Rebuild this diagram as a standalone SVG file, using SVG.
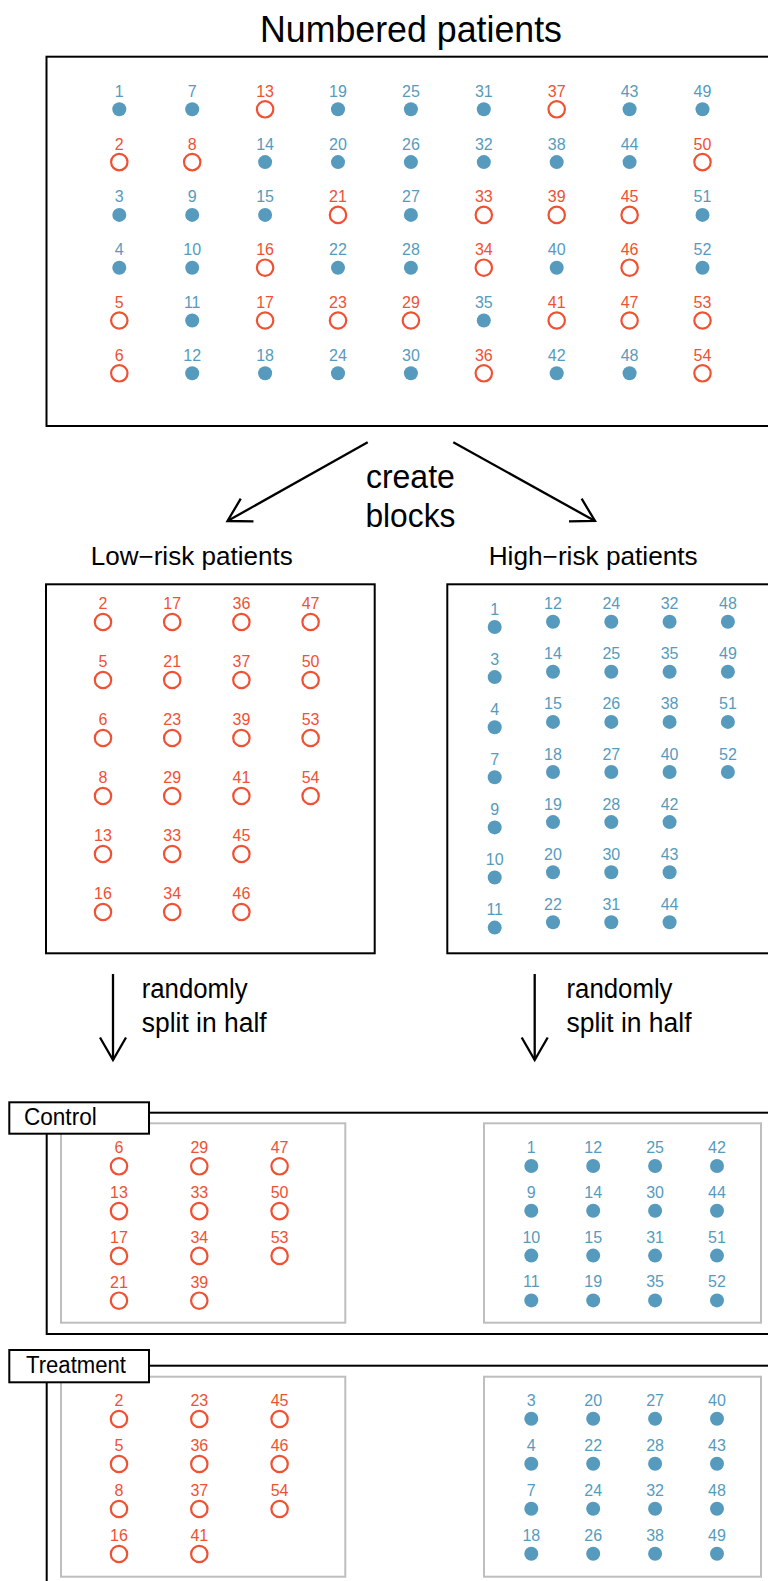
<svg xmlns="http://www.w3.org/2000/svg" width="768" height="1581" viewBox="0 0 768 1581">
<style>
.b{fill:#569BBD}
.r{fill:none;stroke:#F05133;stroke-width:2.2}
.n{font-family:"Liberation Sans",Arial,sans-serif;font-size:16px;text-anchor:middle}
.nb{fill:#569BBD}
.nr{fill:#F05133}
.box{fill:none;stroke:#000;stroke-width:2}
.lb{fill:#fff;stroke:#000;stroke-width:2}
.gbox{fill:none;stroke:#BEBEBE;stroke-width:2}
.t{font-family:"Liberation Sans",Arial,sans-serif;fill:#000}
.arr{stroke:#000;stroke-width:2.3;fill:none}
</style>
<defs>
<marker id="ah" markerUnits="userSpaceOnUse" markerWidth="40" markerHeight="40" viewBox="-30 -20 40 40" refX="0" refY="0" orient="auto" overflow="visible">
<path d="M-22.5,-13 L0,0 L-22.5,13" fill="none" stroke="#000" stroke-width="2.3"/>
</marker>
</defs>
<rect width="768" height="1581" fill="#fff"/>

<g id="numbered">
<text class="t" x="411" y="42" font-size="37" text-anchor="middle" textLength="302" lengthAdjust="spacingAndGlyphs">Numbered patients</text>
<rect class="box" x="46.5" y="56.7" width="740" height="369.3"/>
<g transform="translate(119.3,109.3)"><circle class="b" r="7"/><text class="n nb" y="-12.5">1</text></g>
<g transform="translate(119.3,162.1)"><circle class="r" r="8.2"/><text class="n nr" y="-12.5">2</text></g>
<g transform="translate(119.3,214.9)"><circle class="b" r="7"/><text class="n nb" y="-12.5">3</text></g>
<g transform="translate(119.3,267.7)"><circle class="b" r="7"/><text class="n nb" y="-12.5">4</text></g>
<g transform="translate(119.3,320.5)"><circle class="r" r="8.2"/><text class="n nr" y="-12.5">5</text></g>
<g transform="translate(119.3,373.3)"><circle class="r" r="8.2"/><text class="n nr" y="-12.5">6</text></g>
<g transform="translate(192.2,109.3)"><circle class="b" r="7"/><text class="n nb" y="-12.5">7</text></g>
<g transform="translate(192.2,162.1)"><circle class="r" r="8.2"/><text class="n nr" y="-12.5">8</text></g>
<g transform="translate(192.2,214.9)"><circle class="b" r="7"/><text class="n nb" y="-12.5">9</text></g>
<g transform="translate(192.2,267.7)"><circle class="b" r="7"/><text class="n nb" y="-12.5">10</text></g>
<g transform="translate(192.2,320.5)"><circle class="b" r="7"/><text class="n nb" y="-12.5">11</text></g>
<g transform="translate(192.2,373.3)"><circle class="b" r="7"/><text class="n nb" y="-12.5">12</text></g>
<g transform="translate(265.1,109.3)"><circle class="r" r="8.2"/><text class="n nr" y="-12.5">13</text></g>
<g transform="translate(265.1,162.1)"><circle class="b" r="7"/><text class="n nb" y="-12.5">14</text></g>
<g transform="translate(265.1,214.9)"><circle class="b" r="7"/><text class="n nb" y="-12.5">15</text></g>
<g transform="translate(265.1,267.7)"><circle class="r" r="8.2"/><text class="n nr" y="-12.5">16</text></g>
<g transform="translate(265.1,320.5)"><circle class="r" r="8.2"/><text class="n nr" y="-12.5">17</text></g>
<g transform="translate(265.1,373.3)"><circle class="b" r="7"/><text class="n nb" y="-12.5">18</text></g>
<g transform="translate(338,109.3)"><circle class="b" r="7"/><text class="n nb" y="-12.5">19</text></g>
<g transform="translate(338,162.1)"><circle class="b" r="7"/><text class="n nb" y="-12.5">20</text></g>
<g transform="translate(338,214.9)"><circle class="r" r="8.2"/><text class="n nr" y="-12.5">21</text></g>
<g transform="translate(338,267.7)"><circle class="b" r="7"/><text class="n nb" y="-12.5">22</text></g>
<g transform="translate(338,320.5)"><circle class="r" r="8.2"/><text class="n nr" y="-12.5">23</text></g>
<g transform="translate(338,373.3)"><circle class="b" r="7"/><text class="n nb" y="-12.5">24</text></g>
<g transform="translate(410.9,109.3)"><circle class="b" r="7"/><text class="n nb" y="-12.5">25</text></g>
<g transform="translate(410.9,162.1)"><circle class="b" r="7"/><text class="n nb" y="-12.5">26</text></g>
<g transform="translate(410.9,214.9)"><circle class="b" r="7"/><text class="n nb" y="-12.5">27</text></g>
<g transform="translate(410.9,267.7)"><circle class="b" r="7"/><text class="n nb" y="-12.5">28</text></g>
<g transform="translate(410.9,320.5)"><circle class="r" r="8.2"/><text class="n nr" y="-12.5">29</text></g>
<g transform="translate(410.9,373.3)"><circle class="b" r="7"/><text class="n nb" y="-12.5">30</text></g>
<g transform="translate(483.8,109.3)"><circle class="b" r="7"/><text class="n nb" y="-12.5">31</text></g>
<g transform="translate(483.8,162.1)"><circle class="b" r="7"/><text class="n nb" y="-12.5">32</text></g>
<g transform="translate(483.8,214.9)"><circle class="r" r="8.2"/><text class="n nr" y="-12.5">33</text></g>
<g transform="translate(483.8,267.7)"><circle class="r" r="8.2"/><text class="n nr" y="-12.5">34</text></g>
<g transform="translate(483.8,320.5)"><circle class="b" r="7"/><text class="n nb" y="-12.5">35</text></g>
<g transform="translate(483.8,373.3)"><circle class="r" r="8.2"/><text class="n nr" y="-12.5">36</text></g>
<g transform="translate(556.7,109.3)"><circle class="r" r="8.2"/><text class="n nr" y="-12.5">37</text></g>
<g transform="translate(556.7,162.1)"><circle class="b" r="7"/><text class="n nb" y="-12.5">38</text></g>
<g transform="translate(556.7,214.9)"><circle class="r" r="8.2"/><text class="n nr" y="-12.5">39</text></g>
<g transform="translate(556.7,267.7)"><circle class="b" r="7"/><text class="n nb" y="-12.5">40</text></g>
<g transform="translate(556.7,320.5)"><circle class="r" r="8.2"/><text class="n nr" y="-12.5">41</text></g>
<g transform="translate(556.7,373.3)"><circle class="b" r="7"/><text class="n nb" y="-12.5">42</text></g>
<g transform="translate(629.6,109.3)"><circle class="b" r="7"/><text class="n nb" y="-12.5">43</text></g>
<g transform="translate(629.6,162.1)"><circle class="b" r="7"/><text class="n nb" y="-12.5">44</text></g>
<g transform="translate(629.6,214.9)"><circle class="r" r="8.2"/><text class="n nr" y="-12.5">45</text></g>
<g transform="translate(629.6,267.7)"><circle class="r" r="8.2"/><text class="n nr" y="-12.5">46</text></g>
<g transform="translate(629.6,320.5)"><circle class="r" r="8.2"/><text class="n nr" y="-12.5">47</text></g>
<g transform="translate(629.6,373.3)"><circle class="b" r="7"/><text class="n nb" y="-12.5">48</text></g>
<g transform="translate(702.5,109.3)"><circle class="b" r="7"/><text class="n nb" y="-12.5">49</text></g>
<g transform="translate(702.5,162.1)"><circle class="r" r="8.2"/><text class="n nr" y="-12.5">50</text></g>
<g transform="translate(702.5,214.9)"><circle class="b" r="7"/><text class="n nb" y="-12.5">51</text></g>
<g transform="translate(702.5,267.7)"><circle class="b" r="7"/><text class="n nb" y="-12.5">52</text></g>
<g transform="translate(702.5,320.5)"><circle class="r" r="8.2"/><text class="n nr" y="-12.5">53</text></g>
<g transform="translate(702.5,373.3)"><circle class="r" r="8.2"/><text class="n nr" y="-12.5">54</text></g>
</g>

<g id="connectors">
<line class="arr" x1="367.7" y1="442.3" x2="227.5" y2="521" marker-end="url(#ah)"/>
<line class="arr" x1="453.3" y1="442.3" x2="595" y2="521" marker-end="url(#ah)"/>
<text class="t" x="410.4" y="488" font-size="34" text-anchor="middle" textLength="89" lengthAdjust="spacingAndGlyphs">create</text>
<text class="t" x="410.4" y="526.5" font-size="34" text-anchor="middle" textLength="90" lengthAdjust="spacingAndGlyphs">blocks</text>
<line class="arr" x1="113" y1="974" x2="113" y2="1060" marker-end="url(#ah)"/>
<line class="arr" x1="534.7" y1="974" x2="534.7" y2="1060" marker-end="url(#ah)"/>
<text class="t" x="141.7" y="998" font-size="27" textLength="106" lengthAdjust="spacingAndGlyphs">randomly</text>
<text class="t" x="141.7" y="1032" font-size="27" textLength="125" lengthAdjust="spacingAndGlyphs">split in half</text>
<text class="t" x="566.5" y="998" font-size="27" textLength="106" lengthAdjust="spacingAndGlyphs">randomly</text>
<text class="t" x="566.5" y="1032" font-size="27" textLength="125" lengthAdjust="spacingAndGlyphs">split in half</text>
</g>

<g id="low-risk">
<text class="t" x="191.7" y="565" font-size="25" text-anchor="middle" textLength="202" lengthAdjust="spacingAndGlyphs">Low−risk patients</text>
<rect class="box" x="46" y="584.3" width="328.7" height="369"/>
<g transform="translate(103,622)"><circle class="r" r="8.2"/><text class="n nr" y="-12.7">2</text></g>
<g transform="translate(103,680)"><circle class="r" r="8.2"/><text class="n nr" y="-12.7">5</text></g>
<g transform="translate(103,738)"><circle class="r" r="8.2"/><text class="n nr" y="-12.7">6</text></g>
<g transform="translate(103,796)"><circle class="r" r="8.2"/><text class="n nr" y="-12.7">8</text></g>
<g transform="translate(103,854)"><circle class="r" r="8.2"/><text class="n nr" y="-12.7">13</text></g>
<g transform="translate(103,912)"><circle class="r" r="8.2"/><text class="n nr" y="-12.7">16</text></g>
<g transform="translate(172.2,622)"><circle class="r" r="8.2"/><text class="n nr" y="-12.7">17</text></g>
<g transform="translate(172.2,680)"><circle class="r" r="8.2"/><text class="n nr" y="-12.7">21</text></g>
<g transform="translate(172.2,738)"><circle class="r" r="8.2"/><text class="n nr" y="-12.7">23</text></g>
<g transform="translate(172.2,796)"><circle class="r" r="8.2"/><text class="n nr" y="-12.7">29</text></g>
<g transform="translate(172.2,854)"><circle class="r" r="8.2"/><text class="n nr" y="-12.7">33</text></g>
<g transform="translate(172.2,912)"><circle class="r" r="8.2"/><text class="n nr" y="-12.7">34</text></g>
<g transform="translate(241.4,622)"><circle class="r" r="8.2"/><text class="n nr" y="-12.7">36</text></g>
<g transform="translate(241.4,680)"><circle class="r" r="8.2"/><text class="n nr" y="-12.7">37</text></g>
<g transform="translate(241.4,738)"><circle class="r" r="8.2"/><text class="n nr" y="-12.7">39</text></g>
<g transform="translate(241.4,796)"><circle class="r" r="8.2"/><text class="n nr" y="-12.7">41</text></g>
<g transform="translate(241.4,854)"><circle class="r" r="8.2"/><text class="n nr" y="-12.7">45</text></g>
<g transform="translate(241.4,912)"><circle class="r" r="8.2"/><text class="n nr" y="-12.7">46</text></g>
<g transform="translate(310.6,622)"><circle class="r" r="8.2"/><text class="n nr" y="-12.7">47</text></g>
<g transform="translate(310.6,680)"><circle class="r" r="8.2"/><text class="n nr" y="-12.7">50</text></g>
<g transform="translate(310.6,738)"><circle class="r" r="8.2"/><text class="n nr" y="-12.7">53</text></g>
<g transform="translate(310.6,796)"><circle class="r" r="8.2"/><text class="n nr" y="-12.7">54</text></g>
</g>

<g id="high-risk">
<text class="t" x="593.2" y="565" font-size="25" text-anchor="middle" textLength="209" lengthAdjust="spacingAndGlyphs">High−risk patients</text>
<rect class="box" x="447.3" y="584.3" width="340" height="369"/>
<g transform="translate(494.7,627)"><circle class="b" r="7"/><text class="n nb" y="-12.5">1</text></g>
<g transform="translate(494.7,677.1)"><circle class="b" r="7"/><text class="n nb" y="-12.5">3</text></g>
<g transform="translate(494.7,727.2)"><circle class="b" r="7"/><text class="n nb" y="-12.5">4</text></g>
<g transform="translate(494.7,777.3)"><circle class="b" r="7"/><text class="n nb" y="-12.5">7</text></g>
<g transform="translate(494.7,827.4)"><circle class="b" r="7"/><text class="n nb" y="-12.5">9</text></g>
<g transform="translate(494.7,877.5)"><circle class="b" r="7"/><text class="n nb" y="-12.5">10</text></g>
<g transform="translate(494.7,927.6)"><circle class="b" r="7"/><text class="n nb" y="-12.5">11</text></g>
<g transform="translate(553,621.7)"><circle class="b" r="7"/><text class="n nb" y="-12.5">12</text></g>
<g transform="translate(553,671.8)"><circle class="b" r="7"/><text class="n nb" y="-12.5">14</text></g>
<g transform="translate(553,721.9)"><circle class="b" r="7"/><text class="n nb" y="-12.5">15</text></g>
<g transform="translate(553,772)"><circle class="b" r="7"/><text class="n nb" y="-12.5">18</text></g>
<g transform="translate(553,822.1)"><circle class="b" r="7"/><text class="n nb" y="-12.5">19</text></g>
<g transform="translate(553,872.2)"><circle class="b" r="7"/><text class="n nb" y="-12.5">20</text></g>
<g transform="translate(553,922.3)"><circle class="b" r="7"/><text class="n nb" y="-12.5">22</text></g>
<g transform="translate(611.3,621.7)"><circle class="b" r="7"/><text class="n nb" y="-12.5">24</text></g>
<g transform="translate(611.3,671.8)"><circle class="b" r="7"/><text class="n nb" y="-12.5">25</text></g>
<g transform="translate(611.3,721.9)"><circle class="b" r="7"/><text class="n nb" y="-12.5">26</text></g>
<g transform="translate(611.3,772)"><circle class="b" r="7"/><text class="n nb" y="-12.5">27</text></g>
<g transform="translate(611.3,822.1)"><circle class="b" r="7"/><text class="n nb" y="-12.5">28</text></g>
<g transform="translate(611.3,872.2)"><circle class="b" r="7"/><text class="n nb" y="-12.5">30</text></g>
<g transform="translate(611.3,922.3)"><circle class="b" r="7"/><text class="n nb" y="-12.5">31</text></g>
<g transform="translate(669.6,621.7)"><circle class="b" r="7"/><text class="n nb" y="-12.5">32</text></g>
<g transform="translate(669.6,671.8)"><circle class="b" r="7"/><text class="n nb" y="-12.5">35</text></g>
<g transform="translate(669.6,721.9)"><circle class="b" r="7"/><text class="n nb" y="-12.5">38</text></g>
<g transform="translate(669.6,772)"><circle class="b" r="7"/><text class="n nb" y="-12.5">40</text></g>
<g transform="translate(669.6,822.1)"><circle class="b" r="7"/><text class="n nb" y="-12.5">42</text></g>
<g transform="translate(669.6,872.2)"><circle class="b" r="7"/><text class="n nb" y="-12.5">43</text></g>
<g transform="translate(669.6,922.3)"><circle class="b" r="7"/><text class="n nb" y="-12.5">44</text></g>
<g transform="translate(727.9,621.7)"><circle class="b" r="7"/><text class="n nb" y="-12.5">48</text></g>
<g transform="translate(727.9,671.8)"><circle class="b" r="7"/><text class="n nb" y="-12.5">49</text></g>
<g transform="translate(727.9,721.9)"><circle class="b" r="7"/><text class="n nb" y="-12.5">51</text></g>
<g transform="translate(727.9,772)"><circle class="b" r="7"/><text class="n nb" y="-12.5">52</text></g>
</g>

<g id="control">
<rect class="box" x="46.7" y="1112.7" width="740" height="221.3"/>
<rect class="gbox" x="61" y="1123.3" width="284.3" height="199.4"/>
<rect class="gbox" x="484" y="1123.3" width="277" height="199.4"/>
<rect class="lb" x="9.3" y="1102.3" width="139.7" height="31.4"/>
<text class="t" x="24" y="1125" font-size="23" textLength="72.7" lengthAdjust="spacingAndGlyphs">Control</text>
<g transform="translate(119,1166.3)"><circle class="r" r="8.2"/><text class="n nr" y="-13">6</text></g>
<g transform="translate(119,1211.1)"><circle class="r" r="8.2"/><text class="n nr" y="-13">13</text></g>
<g transform="translate(119,1255.9)"><circle class="r" r="8.2"/><text class="n nr" y="-13">17</text></g>
<g transform="translate(119,1300.7)"><circle class="r" r="8.2"/><text class="n nr" y="-13">21</text></g>
<g transform="translate(199.3,1166.3)"><circle class="r" r="8.2"/><text class="n nr" y="-13">29</text></g>
<g transform="translate(199.3,1211.1)"><circle class="r" r="8.2"/><text class="n nr" y="-13">33</text></g>
<g transform="translate(199.3,1255.9)"><circle class="r" r="8.2"/><text class="n nr" y="-13">34</text></g>
<g transform="translate(199.3,1300.7)"><circle class="r" r="8.2"/><text class="n nr" y="-13">39</text></g>
<g transform="translate(279.6,1166.3)"><circle class="r" r="8.2"/><text class="n nr" y="-13">47</text></g>
<g transform="translate(279.6,1211.1)"><circle class="r" r="8.2"/><text class="n nr" y="-13">50</text></g>
<g transform="translate(279.6,1255.9)"><circle class="r" r="8.2"/><text class="n nr" y="-13">53</text></g>
<g transform="translate(531.3,1166)"><circle class="b" r="7"/><text class="n nb" y="-13">1</text></g>
<g transform="translate(531.3,1210.8)"><circle class="b" r="7"/><text class="n nb" y="-13">9</text></g>
<g transform="translate(531.3,1255.6)"><circle class="b" r="7"/><text class="n nb" y="-13">10</text></g>
<g transform="translate(531.3,1300.4)"><circle class="b" r="7"/><text class="n nb" y="-13">11</text></g>
<g transform="translate(593.2,1166)"><circle class="b" r="7"/><text class="n nb" y="-13">12</text></g>
<g transform="translate(593.2,1210.8)"><circle class="b" r="7"/><text class="n nb" y="-13">14</text></g>
<g transform="translate(593.2,1255.6)"><circle class="b" r="7"/><text class="n nb" y="-13">15</text></g>
<g transform="translate(593.2,1300.4)"><circle class="b" r="7"/><text class="n nb" y="-13">19</text></g>
<g transform="translate(655.1,1166)"><circle class="b" r="7"/><text class="n nb" y="-13">25</text></g>
<g transform="translate(655.1,1210.8)"><circle class="b" r="7"/><text class="n nb" y="-13">30</text></g>
<g transform="translate(655.1,1255.6)"><circle class="b" r="7"/><text class="n nb" y="-13">31</text></g>
<g transform="translate(655.1,1300.4)"><circle class="b" r="7"/><text class="n nb" y="-13">35</text></g>
<g transform="translate(717,1166)"><circle class="b" r="7"/><text class="n nb" y="-13">42</text></g>
<g transform="translate(717,1210.8)"><circle class="b" r="7"/><text class="n nb" y="-13">44</text></g>
<g transform="translate(717,1255.6)"><circle class="b" r="7"/><text class="n nb" y="-13">51</text></g>
<g transform="translate(717,1300.4)"><circle class="b" r="7"/><text class="n nb" y="-13">52</text></g>
</g>

<g id="treatment">
<rect class="box" x="46.7" y="1365.7" width="740" height="300"/>
<rect class="gbox" x="61" y="1376.7" width="284.3" height="200"/>
<rect class="gbox" x="484" y="1376.7" width="277" height="200"/>
<rect class="lb" x="9.3" y="1350" width="139.7" height="32.3"/>
<text class="t" x="26" y="1373" font-size="23" textLength="100" lengthAdjust="spacingAndGlyphs">Treatment</text>
<g transform="translate(119,1419)"><circle class="r" r="8.2"/><text class="n nr" y="-13">2</text></g>
<g transform="translate(119,1464)"><circle class="r" r="8.2"/><text class="n nr" y="-13">5</text></g>
<g transform="translate(119,1509)"><circle class="r" r="8.2"/><text class="n nr" y="-13">8</text></g>
<g transform="translate(119,1554)"><circle class="r" r="8.2"/><text class="n nr" y="-13">16</text></g>
<g transform="translate(199.3,1419)"><circle class="r" r="8.2"/><text class="n nr" y="-13">23</text></g>
<g transform="translate(199.3,1464)"><circle class="r" r="8.2"/><text class="n nr" y="-13">36</text></g>
<g transform="translate(199.3,1509)"><circle class="r" r="8.2"/><text class="n nr" y="-13">37</text></g>
<g transform="translate(199.3,1554)"><circle class="r" r="8.2"/><text class="n nr" y="-13">41</text></g>
<g transform="translate(279.6,1419)"><circle class="r" r="8.2"/><text class="n nr" y="-13">45</text></g>
<g transform="translate(279.6,1464)"><circle class="r" r="8.2"/><text class="n nr" y="-13">46</text></g>
<g transform="translate(279.6,1509)"><circle class="r" r="8.2"/><text class="n nr" y="-13">54</text></g>
<g transform="translate(531.3,1418.7)"><circle class="b" r="7"/><text class="n nb" y="-13">3</text></g>
<g transform="translate(531.3,1463.7)"><circle class="b" r="7"/><text class="n nb" y="-13">4</text></g>
<g transform="translate(531.3,1508.7)"><circle class="b" r="7"/><text class="n nb" y="-13">7</text></g>
<g transform="translate(531.3,1553.7)"><circle class="b" r="7"/><text class="n nb" y="-13">18</text></g>
<g transform="translate(593.2,1418.7)"><circle class="b" r="7"/><text class="n nb" y="-13">20</text></g>
<g transform="translate(593.2,1463.7)"><circle class="b" r="7"/><text class="n nb" y="-13">22</text></g>
<g transform="translate(593.2,1508.7)"><circle class="b" r="7"/><text class="n nb" y="-13">24</text></g>
<g transform="translate(593.2,1553.7)"><circle class="b" r="7"/><text class="n nb" y="-13">26</text></g>
<g transform="translate(655.1,1418.7)"><circle class="b" r="7"/><text class="n nb" y="-13">27</text></g>
<g transform="translate(655.1,1463.7)"><circle class="b" r="7"/><text class="n nb" y="-13">28</text></g>
<g transform="translate(655.1,1508.7)"><circle class="b" r="7"/><text class="n nb" y="-13">32</text></g>
<g transform="translate(655.1,1553.7)"><circle class="b" r="7"/><text class="n nb" y="-13">38</text></g>
<g transform="translate(717,1418.7)"><circle class="b" r="7"/><text class="n nb" y="-13">40</text></g>
<g transform="translate(717,1463.7)"><circle class="b" r="7"/><text class="n nb" y="-13">43</text></g>
<g transform="translate(717,1508.7)"><circle class="b" r="7"/><text class="n nb" y="-13">48</text></g>
<g transform="translate(717,1553.7)"><circle class="b" r="7"/><text class="n nb" y="-13">49</text></g>
</g>
</svg>
